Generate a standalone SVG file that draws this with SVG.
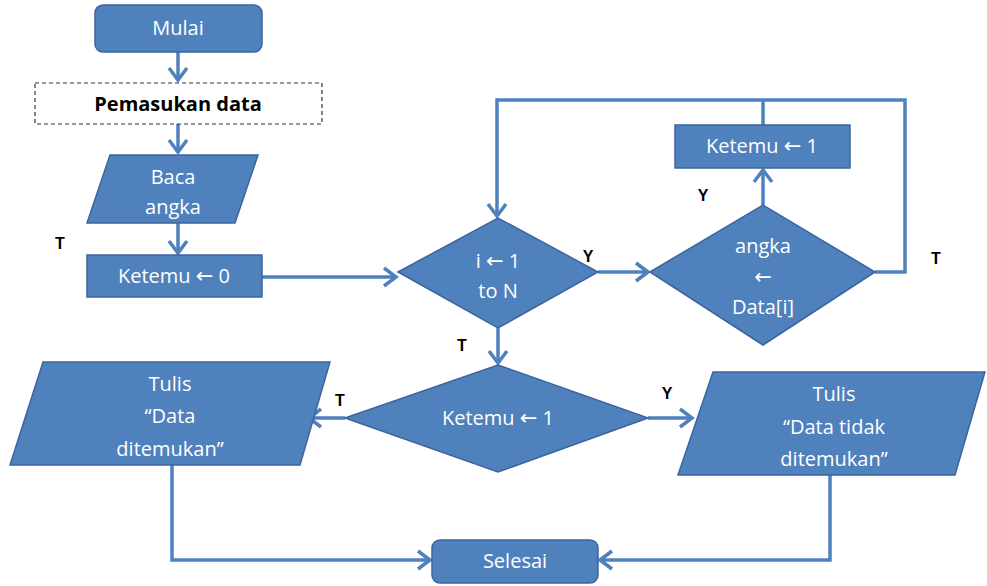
<svg xmlns="http://www.w3.org/2000/svg" width="987" height="586" viewBox="0 0 987 586">
<style>
.n{fill:#4f81bd;stroke:#3b64a0;stroke-width:1.5}
.t{fill:#fff;font-family:"Open Sans","Liberation Sans",sans-serif;font-size:20px;text-anchor:middle}
.ar{font-family:"DejaVu Sans",sans-serif;font-size:21px}
.l{fill:#000;font-family:"Liberation Sans",Arial,sans-serif;font-size:16px;font-weight:bold;text-anchor:middle}
.c{fill:none;stroke:#4f81bd;stroke-width:3.5}
</style>
<defs>
<marker id="a" markerUnits="userSpaceOnUse" markerWidth="20" markerHeight="24" refX="16" refY="12" orient="auto" viewBox="0 0 20 24">
<path d="M4,3 L16,12 L4,21" fill="none" stroke="#4f81bd" stroke-width="3.5"/>
</marker>
</defs>
<rect width="987" height="586" fill="#fff"/>
<g id="connectors">
<path class="c" d="M178,52 V80" marker-end="url(#a)"/>
<path class="c" d="M178,124 V152" marker-end="url(#a)"/>
<path class="c" d="M178,223 V253" marker-end="url(#a)"/>
<path class="c" d="M262,277 H396" marker-end="url(#a)"/>
<path class="c" d="M763,125 V100"/>
<path class="c" d="M875,272 H905 V100 H497 V216" marker-end="url(#a)"/>
<path class="c" d="M598,272 H648" marker-end="url(#a)"/>
<path class="c" d="M763,205 V170" marker-end="url(#a)"/>
<path class="c" d="M498,328 V363" marker-end="url(#a)"/>
<path class="c" d="M345,418 H309" marker-end="url(#a)"/>
<path class="c" d="M648,418 H692" marker-end="url(#a)"/>
<path class="c" d="M172,465 V560 H430" marker-end="url(#a)"/>
<path class="c" d="M830,475 V560 H600" marker-end="url(#a)"/>
</g>
<g id="mulai"><rect class="n" x="95" y="5" width="167" height="47" rx="8"/><text class="t" x="178" y="35">Mulai</text></g>
<g id="pemasukan"><rect x="35" y="83" width="287" height="41" fill="#fff" stroke="#333" stroke-width="1.2" stroke-dasharray="4,3"/><text x="178" y="111" font-family="'Open Sans','Liberation Sans',sans-serif" font-size="20" font-weight="bold" text-anchor="middle" fill="#000">Pemasukan data</text></g>
<g id="baca"><polygon class="n" points="110,155 258,155 235,223 87,223"/><text class="t" x="173" y="184">Baca</text><text class="t" x="173" y="214">angka</text></g>
<g id="ketemu0"><rect class="n" x="87" y="255" width="175" height="42"/><text class="t" x="174" y="283">Ketemu <tspan class="ar">←</tspan> 0</text></g>
<g id="loop"><polygon class="n" points="398,272 498,218 598,272 498,328"/><text class="t" x="498" y="268">i <tspan class="ar">←</tspan> 1</text><text class="t" x="498" y="298">to N</text></g>
<g id="cek"><polygon class="n" points="650,272 763,205 875,272 763,345"/><text class="t" x="763" y="253">angka</text><text class="t" x="763" y="284"><tspan class="ar">←</tspan></text><text class="t" x="763" y="314">Data[i]</text></g>
<g id="ketemu1"><rect class="n" x="675" y="125" width="175" height="43"/><text class="t" x="762" y="153">Ketemu <tspan class="ar">←</tspan> 1</text></g>
<g id="cek2"><polygon class="n" points="345,418 498,365 648,418 498,472"/><text class="t" x="498" y="425">Ketemu <tspan class="ar">←</tspan> 1</text></g>
<g id="tulis1"><polygon class="n" points="43,362 330,362 300,465 10,465"/><text class="t" x="170" y="391">Tulis</text><text class="t" x="170" y="423">“Data</text><text class="t" x="170" y="456">ditemukan”</text></g>
<g id="tulis2"><polygon class="n" points="713,372 985,372 955,475 678,475"/><text class="t" x="834" y="401">Tulis</text><text class="t" x="834" y="434">“Data tidak</text><text class="t" x="834" y="466">ditemukan”</text></g>
<g id="selesai"><rect class="n" x="432" y="540" width="166" height="43" rx="8"/><text class="t" x="515" y="568">Selesai</text></g>
<g id="labels">
<text class="l" x="60" y="249">T</text>
<text class="l" x="588" y="262">Y</text>
<text class="l" x="703" y="201">Y</text>
<text class="l" x="936" y="264">T</text>
<text class="l" x="462" y="351">T</text>
<text class="l" x="340" y="406">T</text>
<text class="l" x="667" y="399">Y</text>
</g>
</svg>
